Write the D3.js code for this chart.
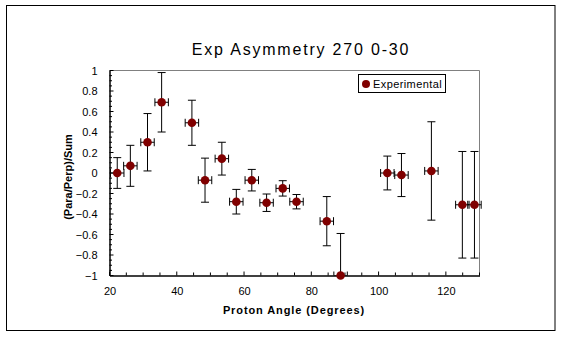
<!DOCTYPE html>
<html><head><meta charset="utf-8">
<script src="https://cdn.jsdelivr.net/npm/d3@7"></script>
<style>body{margin:0;background:#fff;}svg{display:block;}</style>
</head><body>
<svg id="c" width="563" height="338"></svg>
<script>
const angles = [22.3, 26.2, 31.3, 35.5, 44.5, 48.4, 53.4, 57.7, 62.3, 66.7, 71.5, 75.6, 84.6, 88.7, 102.6, 106.8, 115.7, 124.9, 128.5];
const values = [0.00, 0.07, 0.30, 0.69, 0.49, -0.07, 0.14, -0.28, -0.07, -0.29, -0.15, -0.28, -0.47, -1.00, 0.00, -0.02, 0.02, -0.31, -0.31];
const yErr = [0.15, 0.20, 0.28, 0.29, 0.22, 0.215, 0.16, 0.12, 0.105, 0.085, 0.075, 0.07, 0.24, 0.41, 0.165, 0.21, 0.48, 0.52, 0.52];
const xErr = [2, 2, 2, 2, 2, 2, 2, 2, 2, 2, 2, 2, 2, 2, 2, 2, 2, 2, 2];
const xTicks = [20, 40, 60, 80, 100, 120];
const yTicks = [-1, -0.8, -0.6, -0.4, -0.2, 0, 0.2, 0.4, 0.6, 0.8, 1];
const seriesName = "Experimental";

const svg = d3.select("#c");
const font = "'Liberation Sans', Arial, sans-serif";
svg.append("rect").attr("x", 6.5).attr("y", 5.5).attr("width", 548.5).attr("height", 325).attr("fill", "#fff").attr("stroke", "#000").attr("stroke-width", 1);

const L = 109.5, R = 479.5, T = 70.5, B = 275.5;
const x = d3.scaleLinear().domain([20, 130]).range([L, R]);
const y = d3.scaleLinear().domain([-1, 1]).range([B, T]);

svg.append("path").attr("d", `M${L},${T}H${R}V${B}`).attr("fill", "none").attr("stroke", "#808080");

svg.append("defs").append("clipPath").attr("id", "pc").append("rect")
  .attr("x", L - 10).attr("y", T - 2).attr("width", R - L + 20).attr("height", B - T + 2);

const xAxis = svg.append("g").attr("transform", `translate(0,${B})`)
  .call(d3.axisBottom(x).tickValues(xTicks).tickSize(0).tickPadding(12).tickFormat(d3.format("d")));
xAxis.select(".domain").attr("stroke", "#000").attr("stroke-width", 1.5);
xAxis.selectAll("text").attr("font-family", font).attr("font-size", 11).attr("fill", "#000");
const xMinor = d3.range(20, 131, 5);
svg.append("g").selectAll("line").data(xMinor).join("line")
  .attr("x1", d => x(d)).attr("x2", d => x(d)).attr("y1", B).attr("y2", d => B - (d % 20 === 0 ? 4 : 3))
  .attr("stroke", "#000");

const yAxis = svg.append("g").attr("transform", `translate(${L},0)`)
  .call(d3.axisLeft(y).tickValues(yTicks).tickSize(0).tickPadding(12).tickFormat(d => d3.format("")(+d.toFixed(1))));
yAxis.select(".domain").attr("stroke", "#000").attr("stroke-width", 1.5);
yAxis.selectAll("text").attr("font-family", font).attr("font-size", 11).attr("fill", "#000");
const yMinor = d3.range(-20, 21, 1).map(i => i * 0.05);
svg.append("g").selectAll("line").data(yMinor).join("line")
  .attr("x1", L).attr("x2", (d, i) => L + (i % 4 === 0 ? 4 : 2.5)).attr("y1", d => y(d)).attr("y2", d => y(d))
  .attr("stroke", "#000");

const g = svg.append("g").attr("clip-path", "url(#pc)");
const data = angles.map((a, i) => ({a, v: values[i], ey: yErr[i], ex: xErr[i]}));
const cap = 4;
data.forEach(d => {
  const cx = x(d.a), cy = y(d.v);
  const y1 = y(d.v + d.ey), y2 = y(d.v - d.ey);
  const x1 = x(d.a - d.ex), x2 = x(d.a + d.ex);
  const p = `M${cx},${y1}V${y2}M${cx - cap},${y1}H${cx + cap}M${cx - cap},${y2}H${cx + cap}` +
            `M${x1},${cy}H${x2}M${x1},${cy - cap}V${cy + cap}M${x2},${cy - cap}V${cy + cap}`;
  g.append("path").attr("d", p).attr("stroke", "#000").attr("stroke-width", 1).attr("fill", "none");
});
svg.append("g").selectAll("circle").data(data).join("circle")
  .attr("cx", d => x(d.a)).attr("cy", d => y(d.v)).attr("r", 4.3).attr("fill", "#800000");

svg.append("rect").attr("x", 358.5).attr("y", 74.5).attr("width", 87).attr("height", 18).attr("fill", "#fff").attr("stroke", "#000");
svg.append("circle").attr("cx", 366).attr("cy", 84).attr("r", 4).attr("fill", "#800000");
svg.append("text").attr("x", 373).attr("y", 88).attr("font-family", font).attr("font-size", 11)
  .attr("letter-spacing", 0.4).text(seriesName);

svg.append("text").attr("x", 301).attr("y", 55).attr("text-anchor", "middle").attr("font-family", font)
  .attr("font-size", 16).attr("letter-spacing", 1.8).text("Exp Asymmetry 270 0-30");
svg.append("text").attr("x", 294).attr("y", 314).attr("text-anchor", "middle").attr("font-family", font)
  .attr("font-size", 11).attr("font-weight", "bold").attr("letter-spacing", 0.9).text("Proton Angle (Degrees)");
svg.append("text").attr("transform", "translate(72,177) rotate(-90)").attr("text-anchor", "middle").attr("font-family", font)
  .attr("font-size", 11).attr("font-weight", "bold").text("(Para/Perp)/Sum");
</script>
</body></html>
